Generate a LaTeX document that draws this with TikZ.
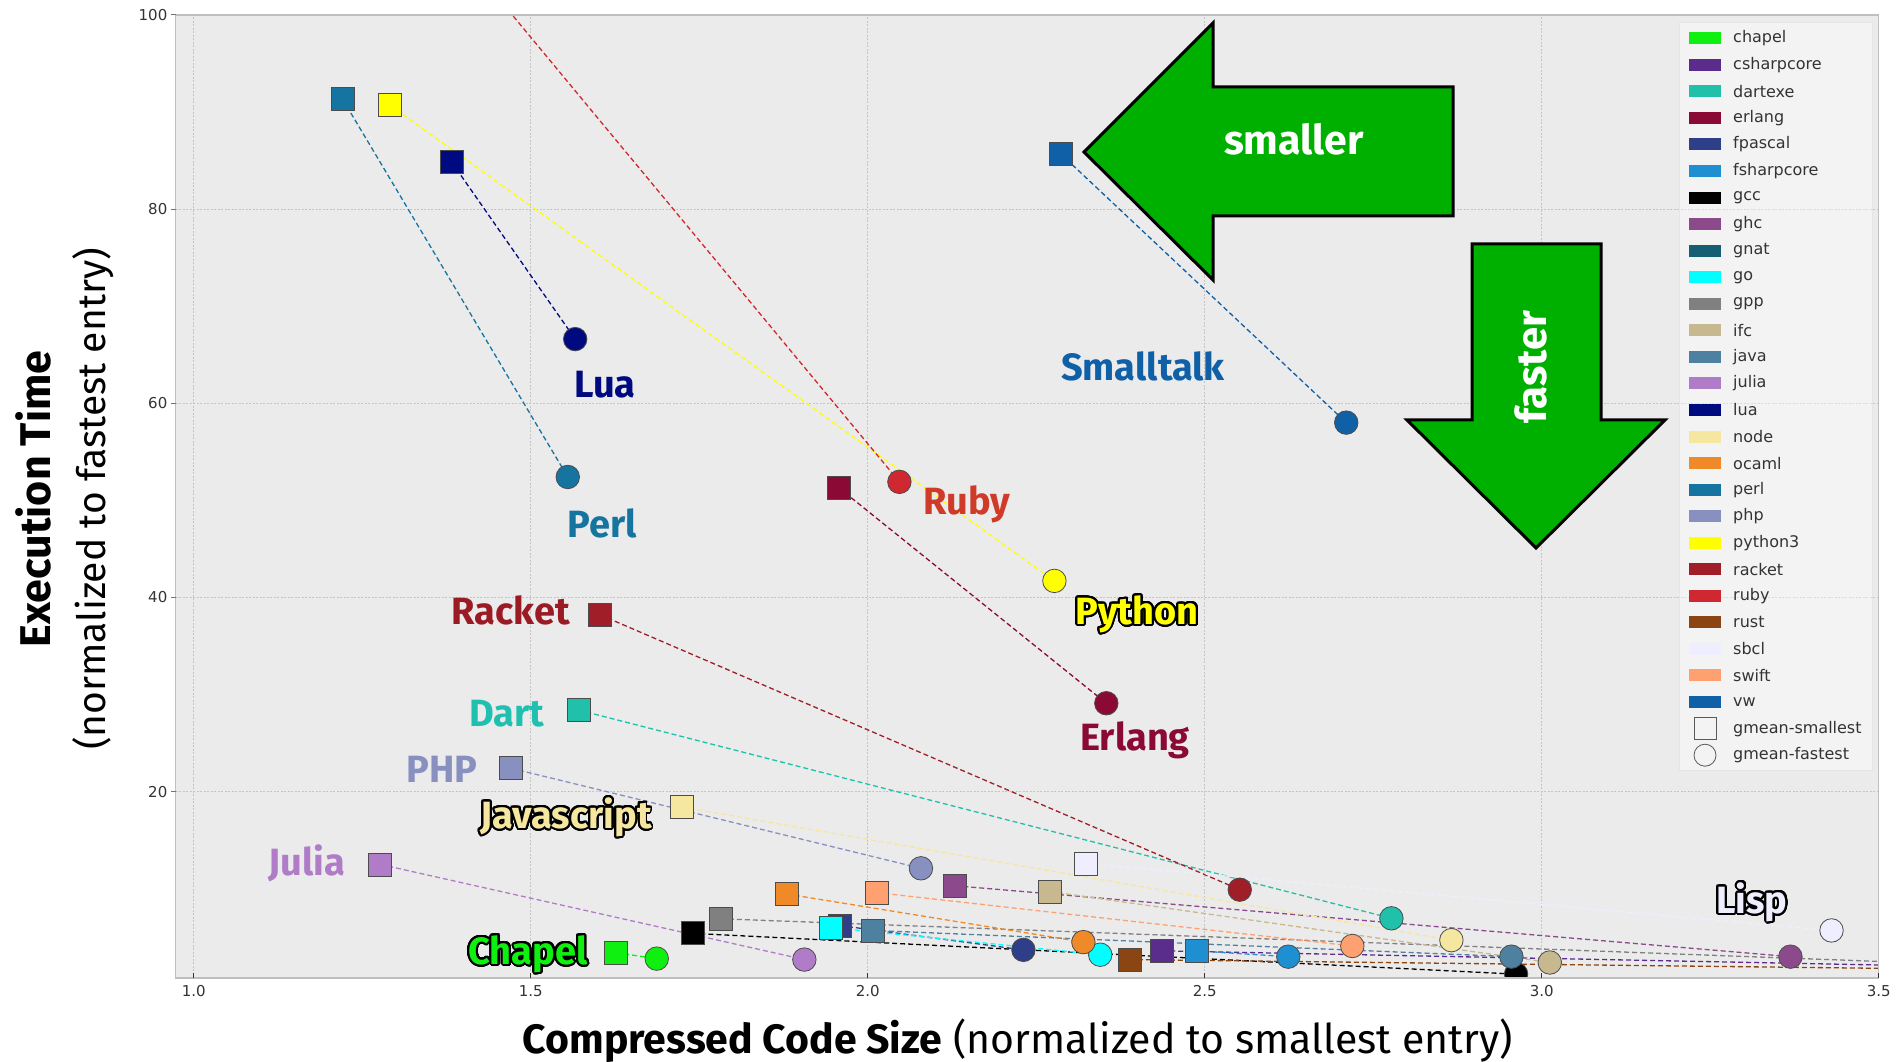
\documentclass[tikz,border=0pt]{standalone}
\usepackage{fontspec}
\setmainfont{Fira Sans}
\newfontfamily\tickfont{DejaVu Sans}
\usepackage[copies]{contour}
\contournumber{32}
\contourlength{2pt}
\definecolor{cchapel}{HTML}{10F010}
\definecolor{ccsharpcore}{HTML}{5A2D8C}
\definecolor{cdartexe}{HTML}{20C0AA}
\definecolor{cerlang}{HTML}{8B0A35}
\definecolor{cfpascal}{HTML}{2E3E88}
\definecolor{cfsharpcore}{HTML}{1E8FD0}
\definecolor{cgcc}{HTML}{000000}
\definecolor{cghc}{HTML}{8C4A8C}
\definecolor{cgnat}{HTML}{145F73}
\definecolor{cgo}{HTML}{00FFFF}
\definecolor{cgpp}{HTML}{808080}
\definecolor{cifc}{HTML}{C8B890}
\definecolor{cjava}{HTML}{4E80A0}
\definecolor{cjulia}{HTML}{B07CC8}
\definecolor{clua}{HTML}{000A80}
\definecolor{cnode}{HTML}{F5E6A0}
\definecolor{cocaml}{HTML}{F08A28}
\definecolor{cperl}{HTML}{1575A0}
\definecolor{cphp}{HTML}{8890C0}
\definecolor{cpython3}{HTML}{FFFF00}
\definecolor{cracket}{HTML}{A01E28}
\definecolor{cruby}{HTML}{D02830}
\definecolor{crust}{HTML}{8B4513}
\definecolor{csbcl}{HTML}{EEEEFF}
\definecolor{cswift}{HTML}{FFA070}
\definecolor{cvw}{HTML}{1060A8}
\definecolor{plotbg}{HTML}{EBEBEB}
\definecolor{gridc}{HTML}{C4C4C4}
\definecolor{arrowgreen}{HTML}{00B000}
\definecolor{lruby}{HTML}{D03A28}
\definecolor{lracket}{HTML}{9B1B24}
\definecolor{ldart}{HTML}{20C0B0}
\begin{document}
\begin{tikzpicture}[x=1pt,y=1pt,
  conn/.style={dash pattern=on 5pt off 3pt, line width=1.3pt},
  sq/.style={rectangle, minimum size=23pt, inner sep=0pt, draw=black!70, line width=0.8pt},
  ci/.style={circle, minimum size=23.5pt, inner sep=0pt, draw=black!70, line width=0.8pt},
  lbl/.style={font=\bfseries\fontsize{38}{40}\selectfont, inner sep=0pt},
  tickl/.style={font=\tickfont\fontsize{15}{17}\selectfont, text=black!80, inner sep=0pt},
  leg/.style={font=\tickfont\fontsize{16}{18}\selectfont, text=black!80, anchor=west, inner sep=0pt},
  patch/.style={rectangle, minimum width=32pt, minimum height=12pt, inner sep=0pt},
  grn/.style={fill=arrowgreen, draw=black, line width=3pt, line join=miter},
  gridl/.style={draw=gridc, line width=0.8pt, dash pattern=on 2pt off 1.5pt}
]
\useasboundingbox (0,0) rectangle (1898,1061);
\fill[white] (0,0) rectangle (1898,1061);

\begin{scope}[shift={(-480.3pt,75.2pt)}, x=674pt, y=9.71pt]
  \fill[plotbg] (0.973,0.8) rectangle (3.5,100);
  \foreach \gx in {1.0,1.5,2.0,2.5,3.0} {\draw[gridl] (\gx,0.8) -- (\gx,100);}
  \foreach \gy in {20,40,60,80} {\draw[gridl] (0.973,\gy) -- (3.5,\gy);}

  % data points: S = gmean-smallest, C = gmean-fastest
  \coordinate (chapelS) at (1.627,3.4);   \coordinate (chapelC) at (1.687,2.8);
  \coordinate (csharpS) at (2.437,3.6);   \coordinate (csharpC) at (3.7,1.87);
  \coordinate (dartS) at (1.571,28.4);    \coordinate (dartC) at (2.777,6.95);
  \coordinate (erlangS) at (1.957,51.3);  \coordinate (erlangC) at (2.354,29.1);
  \coordinate (fpascalS) at (1.959,6.2);  \coordinate (fpascalC) at (2.231,3.7);
  \coordinate (fsharpS) at (2.488,3.6);   \coordinate (fsharpC) at (2.624,3.0);
  \coordinate (gccS) at (1.740,5.4);      \coordinate (gccC) at (2.962,1.2);
  \coordinate (ghcS) at (2.130,10.3);     \coordinate (ghcC) at (3.369,3.0);
  \coordinate (goS) at (1.946,6.0);       \coordinate (goC) at (2.345,3.2);
  \coordinate (gppS) at (1.782,6.9);      \coordinate (gppC) at (3.7,2.0);
  \coordinate (ifcS) at (2.271,9.7);      \coordinate (ifcC) at (3.012,2.4);
  \coordinate (javaS) at (2.008,5.7);     \coordinate (javaC) at (2.955,3.0);
  \coordinate (juliaS) at (1.277,12.5);   \coordinate (juliaC) at (1.906,2.7);
  \coordinate (luaS) at (1.383,84.8);     \coordinate (luaC) at (1.566,66.6);
  \coordinate (nodeS) at (1.724,18.4);    \coordinate (nodeC) at (2.866,4.7);
  \coordinate (ocamlS) at (1.880,9.45);   \coordinate (ocamlC) at (2.320,4.5);
  \coordinate (perlS) at (1.221,91.3);    \coordinate (perlC) at (1.555,52.4);
  \coordinate (phpS) at (1.471,22.4);     \coordinate (phpC) at (2.079,12.1);
  \coordinate (pythonS) at (1.291,90.7);  \coordinate (pythonC) at (2.277,41.7);
  \coordinate (racketS) at (1.603,38.2);  \coordinate (racketC) at (2.552,9.9);
  \coordinate (rubyS) at (1.353,110);     \coordinate (rubyC) at (2.047,51.9);
  \coordinate (rustS) at (2.389,2.7);     \coordinate (rustC) at (3.7,1.64);
  \coordinate (sbclS) at (2.324,12.6);    \coordinate (sbclC) at (3.430,5.7);
  \coordinate (swiftS) at (2.013,9.6);    \coordinate (swiftC) at (2.719,4.1);
  \coordinate (vwS) at (2.286,85.7);      \coordinate (vwC) at (2.710,58.0);

  \begin{scope}
    \clip (0.973,0.8) rectangle (3.5,100);
    % connectors
    \draw[conn, cchapel] (chapelS) -- (chapelC);
    \draw[conn, ccsharpcore] (csharpS) -- (csharpC);
    \draw[conn, cdartexe] (dartS) -- (dartC);
    \draw[conn, cerlang] (erlangS) -- (erlangC);
    \draw[conn, cfpascal] (fpascalS) -- (fpascalC);
    \draw[conn, cfsharpcore] (fsharpS) -- (fsharpC);
    \draw[conn, cgcc] (gccS) -- (gccC);
    \draw[conn, cghc] (ghcS) -- (ghcC);
    \draw[conn, cgo] (goS) -- (goC);
    \draw[conn, cgpp] (gppS) -- (gppC);
    \draw[conn, cifc] (ifcS) -- (ifcC);
    \draw[conn, cjava] (javaS) -- (javaC);
    \draw[conn, cjulia] (juliaS) -- (juliaC);
    \draw[conn, clua] (luaS) -- (luaC);
    \draw[conn, cnode] (nodeS) -- (nodeC);
    \draw[conn, cocaml] (ocamlS) -- (ocamlC);
    \draw[conn, cperl] (perlS) -- (perlC);
    \draw[conn, cphp] (phpS) -- (phpC);
    \draw[conn, cpython3] (pythonS) -- (pythonC);
    \draw[conn, cracket] (racketS) -- (racketC);
    \draw[conn, cruby] (rubyS) -- (rubyC);
    \draw[conn, crust] (rustS) -- (rustC);
    \draw[conn, csbcl] (sbclS) -- (sbclC);
    \draw[conn, cswift] (swiftS) -- (swiftC);
    \draw[conn, cvw] (vwS) -- (vwC);
    % squares (smallest)
    \node[sq, fill=cchapel] (chapelSm) at (chapelS) {};
    \node[sq, fill=ccsharpcore] (csharpSm) at (csharpS) {};
    \node[sq, fill=cdartexe] (dartSm) at (dartS) {};
    \node[sq, fill=cerlang] (erlangSm) at (erlangS) {};
    \node[sq, fill=cfpascal] (fpascalSm) at (fpascalS) {};
    \node[sq, fill=cfsharpcore] (fsharpSm) at (fsharpS) {};
    \node[sq, fill=cgcc] (gccSm) at (gccS) {};
    \node[sq, fill=cghc] (ghcSm) at (ghcS) {};
    \node[sq, fill=cgo] (goSm) at (goS) {};
    \node[sq, fill=cgpp] (gppSm) at (gppS) {};
    \node[sq, fill=cifc] (ifcSm) at (ifcS) {};
    \node[sq, fill=cjava] (javaSm) at (javaS) {};
    \node[sq, fill=cjulia] (juliaSm) at (juliaS) {};
    \node[sq, fill=clua] (luaSm) at (luaS) {};
    \node[sq, fill=cnode] (nodeSm) at (nodeS) {};
    \node[sq, fill=cocaml] (ocamlSm) at (ocamlS) {};
    \node[sq, fill=cperl] (perlSm) at (perlS) {};
    \node[sq, fill=cphp] (phpSm) at (phpS) {};
    \node[sq, fill=cpython3] (pythonSm) at (pythonS) {};
    \node[sq, fill=cracket] (racketSm) at (racketS) {};
    \node[sq, fill=crust] (rustSm) at (rustS) {};
    \node[sq, fill=csbcl] (sbclSm) at (sbclS) {};
    \node[sq, fill=cswift] (swiftSm) at (swiftS) {};
    \node[sq, fill=cvw] (vwSm) at (vwS) {};
    % circles (fastest)
    \node[ci, fill=cchapel] (chapelCm) at (chapelC) {};
    \node[ci, fill=cdartexe] (dartCm) at (dartC) {};
    \node[ci, fill=cerlang] (erlangCm) at (erlangC) {};
    \node[ci, fill=cfpascal] (fpascalCm) at (fpascalC) {};
    \node[ci, fill=cfsharpcore] (fsharpCm) at (fsharpC) {};
    \node[ci, fill=cgcc] (gccCm) at (gccC) {};
    \node[ci, fill=cghc] (ghcCm) at (ghcC) {};
    \node[ci, fill=cgo] (goCm) at (goC) {};
    \node[ci, fill=cifc] (ifcCm) at (ifcC) {};
    \node[ci, fill=cjava] (javaCm) at (javaC) {};
    \node[ci, fill=cjulia] (juliaCm) at (juliaC) {};
    \node[ci, fill=clua] (luaCm) at (luaC) {};
    \node[ci, fill=cnode] (nodeCm) at (nodeC) {};
    \node[ci, fill=cocaml] (ocamlCm) at (ocamlC) {};
    \node[ci, fill=cperl] (perlCm) at (perlC) {};
    \node[ci, fill=cphp] (phpCm) at (phpC) {};
    \node[ci, fill=cpython3] (pythonCm) at (pythonC) {};
    \node[ci, fill=cracket] (racketCm) at (racketC) {};
    \node[ci, fill=cruby] (rubyCm) at (rubyC) {};
    \node[ci, fill=csbcl] (sbclCm) at (sbclC) {};
    \node[ci, fill=cswift] (swiftCm) at (swiftC) {};
    \node[ci, fill=cvw] (vwCm) at (vwC) {};
  \end{scope}

  \draw[draw=black!25, line width=1.5pt] (0.973,0.8) rectangle (3.5,100);
  % ticks
  \foreach \gy in {20,40,60,80,100} {
    \draw[black!55, line width=0.8pt] (0.973,\gy) -- ++(-5pt,0);
    \node[tickl, anchor=east] (yt\gy) at ([xshift=-8pt]0.973,\gy) {\gy};
  }
  \foreach \gx in {1.0,1.5,2.0,2.5,3.0,3.5} {
    \draw[black!80, line width=0.8pt] (\gx,0.8) -- ++(0,5pt);
    \node[tickl, anchor=north] (xt\gx) at ([yshift=-7pt]\gx,0.8) {\gx};
  }
\end{scope}

% green arrows
\draw[grn] (1084,909) -- (1213,1038) -- (1213,974) -- (1453,974) -- (1453,845) -- (1213,845) -- (1213,781) -- cycle;
\node[font=\bfseries\fontsize{41}{44}\selectfont, text=white] (smallertxt) at (1294,922) {smaller};
\draw[grn] (1536,513) -- (1407,641) -- (1472,641) -- (1472,817) -- (1601,817) -- (1601,641) -- (1665,641) -- cycle;
\node[font=\bfseries\fontsize{42}{44}\selectfont, text=white, rotate=90] (fastertxt) at (1531,694) {faster};

% language labels
\node[lbl, text=clua] (lLua) at (605,676) {Lua};
\node[lbl, text=cperl] (lPerl) at (602,538) {Perl};
\node[lbl, text=lruby] (lRuby) at (967,557) {Ruby};
\node[lbl, text=cvw] (lSmalltalk) at (1143,695) {Smalltalk};
\node[lbl, text=lracket] (lRacket) at (511,451) {Racket};
\node[lbl, text=cpython3] (lPython) at (1137,446) {\contour{black}{Python}};
\node[lbl, text=ldart] (lDart) at (507,347) {Dart};
\node[lbl, text=cerlang] (lErlang) at (1135,321) {Erlang};
\node[lbl, text=cphp] (lPHP) at (442,292) {PHP};
\node[lbl, text=cnode] (lJavascript) at (566,243) {\contour{black}{Javascript}};
\node[lbl, text=cjulia] (lJulia) at (307,198) {Julia};
\node[lbl, text=cchapel] (lChapel) at (528,106) {\contour{black}{Chapel}};
\node[lbl, text=csbcl] (lLisp) at (1752,158) {\contour{black}{Lisp}};

% legend
\fill[white, fill opacity=0.4] (1679,1039) rectangle (1872,291);
\draw[black!10, line width=0.8pt] (1679,1039) rectangle (1872,291);
\foreach \nm [count=\i] in {chapel,csharpcore,dartexe,erlang,fpascal,fsharpcore,gcc,ghc,gnat,go,gpp,ifc,java,julia,lua,node,ocaml,perl,php,python3,racket,ruby,rust,sbcl,swift,vw} {
  \pgfmathsetmacro{\ly}{1022.7-(\i-1)*26.55}
  \node[patch, fill=c\nm] (legp\i) at (1705,\ly) {};
  \node[leg] (legt\i) at (1733,\ly) {\nm};
}
\node[rectangle, minimum size=22pt, inner sep=0pt, draw=black!65, line width=0.8pt] (legsq) at (1705,332.4) {};
\node[leg] (legsqt) at (1733,332.4) {gmean-smallest};
\node[circle, minimum size=22pt, inner sep=0pt, draw=black!65, line width=0.8pt] (legci) at (1705,305.8) {};
\node[leg] (legcit) at (1733,305.8) {gmean-fastest};

% axis titles
\node[rotate=90, font=\bfseries\fontsize{43}{46}\selectfont] (ylab1) at (33,562) {Execution Time};
\node[rotate=90, font=\fontsize{39}{42}\selectfont] (ylab2) at (93,562) {(normalized to fastest entry)};
\node[anchor=base, font=\fontsize{41}{44}\selectfont] (xlab) at (1018,8) {\textbf{Compressed Code Size} (normalized to smallest entry)};
\end{tikzpicture}
\end{document}
